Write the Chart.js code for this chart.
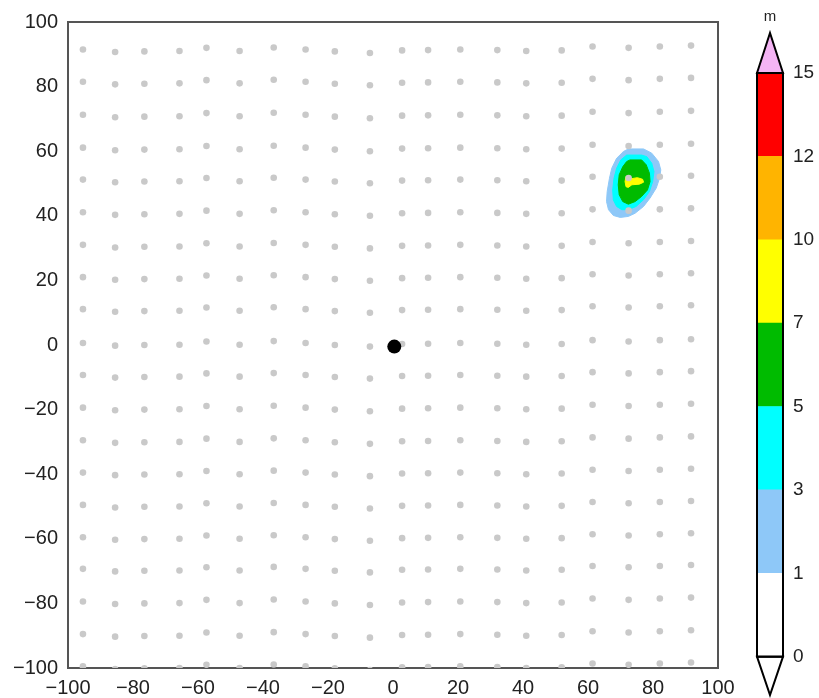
<!DOCTYPE html>
<html>
<head>
<meta charset="utf-8">
<script src="https://cdn.jsdelivr.net/npm/chart.js@4.4.1/dist/chart.umd.min.js"></script>
<style>
    html, body { margin: 0; padding: 0; background: #fff; }
    #wrap { position: relative; width: 819px; height: 698px; }
    #main { position: absolute; left: 0; top: 0; }
    #bar { position: absolute; left: 740px; top: 0; }
</style>
</head>
<body>
<div id="wrap">
    <canvas id="main" width="819" height="698"></canvas>
    <canvas id="bar" width="79" height="698"></canvas>
</div>
<script>
// station grid (columns, their small vertical shift, rows)
const colX = [-95.4, -85.5, -76.5, -65.7, -57.4, -47.2, -36.7, -26.9, -17.9, -7.1,
              2.8, 10.8, 20.7, 32.1, 41.0, 51.9, 61.4, 72.5, 82.1, 91.7];
const colDy = [0, -0.8, -0.6, -0.5, 0.5, -0.5, 0.6, 0, -0.6, -1.1,
               -0.3, -0.2, 0, -0.2, -0.5, -0.3, 0.9, 0.5, 0.9, 1.2];
const rowY = [91.5, 81.5, 71.3, 61.1, 51.2, 41.1, 31.0, 21.0, 11.1, 0.6,
              -9.3, -19.4, -29.5, -39.5, -49.5, -59.5, -69.3, -79.4, -89.5, -99.5];

const centre = [0.4, -0.5];

// contour outlines of the field (m)
const contour1 = [[72.4, 60.7], [77.1, 60.7], [79.6, 59.4], [81.7, 56.8], [82.4, 54.2], [82.0, 51.6],
                  [81.0, 48.6], [79.1, 45.5], [77.1, 42.9], [74.5, 40.8], [72.4, 39.8], [69.9, 39.5],
                  [67.8, 40.1], [66.3, 41.9], [65.7, 44.4], [65.9, 47.5], [66.6, 51.6], [67.3, 54.7],
                  [68.8, 57.8], [70.9, 59.9]];
const contour3 = [[71.9, 58.8], [76.5, 58.8], [78.1, 58.3], [79.6, 56.3], [80.3, 53.7], [79.9, 50.6],
                  [78.9, 47.5], [77.1, 45.0], [74.8, 42.9], [72.4, 41.9], [70.4, 41.9], [68.8, 42.9],
                  [67.8, 44.9], [67.6, 48.0], [68.0, 51.6], [68.8, 54.7], [70.1, 57.3]];
const contour5 = [[72.9, 57.3], [76.5, 57.3], [77.9, 55.8], [78.9, 53.2], [79.1, 50.6], [78.3, 48.0],
                  [76.5, 46.0], [74.5, 44.4], [72.4, 43.6], [70.7, 44.4], [69.6, 46.5], [69.3, 49.6],
                  [69.6, 52.7], [70.7, 55.2], [71.9, 56.8]];
const contour7 = [[71.7, 52.2], [72.9, 51.4], [75.2, 51.8], [76.8, 51.3], [77.1, 50.4], [75.8, 49.8],
                  [73.5, 49.6], [72.4, 48.8], [71.7, 49.0], [71.4, 50.6]];

const levels = ['0', '1', '3', '5', '7', '10', '12', '15'];
const levelColors = ['#ffffff', '#8ec8f8', '#00ffff', '#00bb00', '#ffff00', '#ffb400', '#ff0000'];
const overColor = '#f4b4f4';

const tickFont = { family: 'Liberation Sans, Arial, sans-serif', size: 20 };
const textColor = '#222';
const frameColor = '#555';

const fmt = v => v < 0 ? '\u2212' + Math.abs(v) : String(v);

const gridPoints = [];
rowY.forEach(y => {
    colX.forEach((x, i) => {
        gridPoints.push({ x: x, y: y + colDy[i] });
    });
});

const closed = pts => pts.concat([pts[0]]).map(p => ({ x: p[0], y: p[1] }));

function contourSet(pts, color, order) {
    return {
        data: closed(pts),
        showLine: true,
        fill: 'shape',
        backgroundColor: color,
        borderColor: color,
        borderWidth: 1,
        pointRadius: 0,
        order: order
    };
}

new Chart(document.getElementById('main'), {
    type: 'scatter',
    data: {
        datasets: [
            { data: [{ x: centre[0], y: centre[1] }], backgroundColor: '#000', borderWidth: 0, pointRadius: 7, order: 0 },
            { data: gridPoints, backgroundColor: '#c9c9c9', borderWidth: 0, pointRadius: 3.3, clip: 0, order: 1 },
            contourSet(contour7, levelColors[4], 2),
            contourSet(contour5, levelColors[3], 3),
            contourSet(contour3, levelColors[2], 4),
            contourSet(contour1, levelColors[1], 5)
        ]
    },
    options: {
        responsive: false,
        animation: false,
        layout: { padding: { top: 20, right: 101, left: 0, bottom: 0 } },
        plugins: { legend: { display: false }, tooltip: { enabled: false } },
        scales: {
            x: {
                type: 'linear', min: -100, max: 100,
                ticks: { stepSize: 20, callback: fmt, font: tickFont, color: textColor, padding: 8, maxRotation: 0, autoSkip: false },
                grid: { display: false, drawTicks: false },
                border: { display: true, color: frameColor, width: 2 },
                afterFit: s => { s.height = 30; }
            },
            y: {
                type: 'linear', min: -100, max: 100,
                ticks: { stepSize: 20, callback: fmt, font: tickFont, color: textColor, padding: 10, autoSkip: false },
                grid: { display: false, drawTicks: false },
                border: { display: true, color: frameColor, width: 2 },
                afterFit: s => { s.width = 68; }
            },
            x2: {
                type: 'linear', axis: 'x', position: 'top', min: -100, max: 100,
                ticks: { display: false },
                grid: { display: false, drawTicks: false },
                border: { display: true, color: frameColor, width: 2 },
                afterFit: s => { s.height = 0; }
            },
            y2: {
                type: 'linear', axis: 'y', position: 'right', min: -100, max: 100,
                ticks: { display: false },
                grid: { display: false, drawTicks: false },
                border: { display: true, color: frameColor, width: 2 },
                afterFit: s => { s.width = 0; }
            }
        }
    }
});

// colour bar: frame, end triangles and unit label
const colorbarFrame = {
    id: 'colorbarFrame',
    afterDraw(chart) {
        const ctx = chart.ctx;
        const y = chart.scales.y;
        const left = chart.chartArea.left;
        const right = chart.chartArea.right;
        const mid = (left + right) / 2;
        const top = y.getPixelForValue(levels.length - 1);
        const bottom = y.getPixelForValue(0);
        ctx.save();
        ctx.lineWidth = 2;
        ctx.strokeStyle = '#000';
        ctx.lineJoin = 'miter';

        ctx.beginPath();
        ctx.moveTo(left, top);
        ctx.lineTo(mid, y.getPixelForValue(y.max));
        ctx.lineTo(right, top);
        ctx.closePath();
        ctx.fillStyle = overColor;
        ctx.fill();
        ctx.stroke();

        ctx.beginPath();
        ctx.moveTo(left, bottom);
        ctx.lineTo(mid, y.getPixelForValue(y.min));
        ctx.lineTo(right, bottom);
        ctx.closePath();
        ctx.fillStyle = '#fff';
        ctx.fill();
        ctx.stroke();

        ctx.strokeRect(left, top, right - left, bottom - top);

        ctx.fillStyle = textColor;
        ctx.font = '15px Liberation Sans, Arial, sans-serif';
        ctx.textAlign = 'center';
        ctx.textBaseline = 'middle';
        ctx.fillText('m', mid, 17);
        ctx.restore();
    }
};

new Chart(document.getElementById('bar'), {
    type: 'bar',
    data: {
        labels: ['m'],
        datasets: levelColors.map(c => ({
            data: [1],
            backgroundColor: c,
            borderWidth: 0,
            barPercentage: 1,
            categoryPercentage: 1
        }))
    },
    options: {
        responsive: false,
        animation: false,
        layout: { padding: { top: 33, bottom: 3, left: 17, right: 0 } },
        plugins: { legend: { display: false }, tooltip: { enabled: false } },
        scales: {
            x: { stacked: true, display: false },
            y: {
                stacked: true, position: 'right', min: -0.46, max: 7.48,
                afterBuildTicks: s => { s.ticks = levels.map((l, i) => ({ value: i })); },
                ticks: { callback: (v, i) => levels[i], font: { family: tickFont.family, size: 19 }, color: textColor, padding: 10 },
                grid: { display: false, drawTicks: false },
                border: { display: false },
                afterFit: s => { s.width = 36; s.paddingTop = 0; s.paddingBottom = 0; }
            }
        }
    },
    plugins: [colorbarFrame]
});
</script>
</body>
</html>
